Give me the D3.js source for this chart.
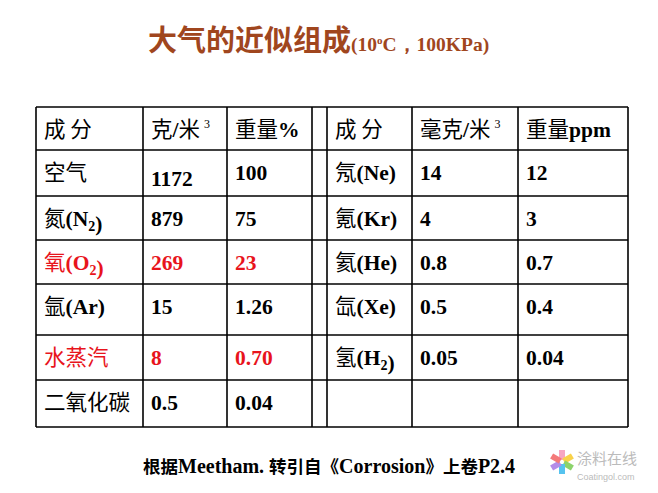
<!DOCTYPE html>
<html><head><meta charset="utf-8">
<script src="https://cdn.jsdelivr.net/npm/d3@7"></script>
<style>body{margin:0;background:#fff}</style>
</head><body>
<svg id="chart" width="658" height="493"></svg>
<script>
const headers = ['成 分', '克/米^3', '重量%', '', '成 分', '毫克/米^3', '重量ppm'];
const leftNames = ['空气', '氮(N_2)', '氧(O_2)', '氩(Ar)', '水蒸汽', '二氧化碳'];
const leftGrams = ['1172', '879', '269', '15', '8', '0.5'];
const leftPct = ['100', '75', '23', '1.26', '0.70', '0.04'];
const rightNames = ['氖(Ne)', '氪(Kr)', '氦(He)', '氙(Xe)', '氢(H_2)', ''];
const rightMg = ['14', '4', '0.8', '0.5', '0.05', ''];
const rightPpm = ['12', '3', '0.7', '0.4', '0.04', ''];
const redRows = ['氧(O_2)', '水蒸汽'];

const svg = d3.select('#chart');
const colEdges = [36, 143, 227, 312, 327, 412, 518, 628];
const rowEdges = [107, 150, 196, 240, 284, 335, 380, 427];

const x = d3.scaleOrdinal().domain(d3.range(7)).range(colEdges.slice(0, 7));
const y = d3.scaleOrdinal().domain(d3.range(7)).range(rowEdges.slice(0, 7));

// title
const title = svg.append('text').attr('x', 148).attr('y', 51).attr('fill', '#a0461e').attr('font-weight', 'bold');
title.append('tspan').attr('font-family', 'Noto Sans CJK SC').attr('font-size', 29).text('大气的近似组成');
const t2 = title.append('tspan').attr('font-family', 'Liberation Serif').attr('font-size', 19.5);
t2.append('tspan').text('(10');
t2.append('tspan').attr('font-size', 11).attr('dy', -7).text('o');
t2.append('tspan').attr('dy', 7).text('C，100KPa)');

// grid
const g = svg.append('g').attr('stroke', '#000').attr('stroke-width', 1.6);
colEdges.forEach(cx => g.append('line').attr('x1', cx).attr('x2', cx).attr('y1', rowEdges[0]).attr('y2', rowEdges[7]));
rowEdges.forEach(cy => g.append('line').attr('x1', colEdges[0]).attr('x2', colEdges[7]).attr('y1', cy).attr('y2', cy));

function isCJK(ch) { return /[\u3000-\u9fff\uff00-\uffef]/.test(ch); }

function writeCell(col, row, str, color, dy) {
  if (!str) return;
  const t = svg.append('text').attr('x', x(col) + 8).attr('y', y(row) + 30 + (dy || 0))
    .attr('fill', color).attr('font-size', 21.5);
  const parts = str.split(/(_\d|\^\d)/);
  parts.forEach(p => {
    if (!p) return;
    if (p[0] === '_') {
      t.append('tspan').attr('font-family', 'Liberation Serif').attr('font-weight', 'bold')
        .attr('font-size', 14).attr('dy', 5).text(p.slice(1));
      t.append('tspan').attr('dy', -5).text('');
      return;
    }
    if (p[0] === '^') {
      t.append('tspan').attr('font-family', 'Liberation Serif').attr('font-size', 12)
        .attr('dy', -9).attr('dx', 4).text(p.slice(1));
      t.append('tspan').attr('dy', 9).text('');
      return;
    }
    let run = '', cjk = null;
    const flush = () => {
      if (!run) return;
      t.append('tspan').attr('font-family', cjk ? 'Noto Sans CJK SC' : 'Liberation Serif')
        .attr('font-weight', cjk ? 'normal' : 'bold').text(run);
      run = '';
    };
    for (const ch of p) {
      const c = isCJK(ch) || ch === ' ';
      if (cjk !== null && c !== cjk && ch !== ' ') flush();
      if (ch !== ' ') cjk = c;
      run += ch;
    }
    flush();
  });
}

headers.forEach((h, i) => writeCell(i, 0, h, '#000'));
leftNames.forEach((d, i) => {
  const c = redRows.includes(d) ? '#e8141c' : '#000';
  writeCell(0, i + 1, d, c);
  writeCell(1, i + 1, leftGrams[i], c, i === 0 ? 6 : 0);
  writeCell(2, i + 1, leftPct[i], c);
  writeCell(4, i + 1, rightNames[i], '#000');
  writeCell(5, i + 1, rightMg[i], '#000');
  writeCell(6, i + 1, rightPpm[i], '#000');
});

// footer
const f = svg.append('text').attr('x', 143).attr('y', 473).attr('font-weight', 'bold');
[['根据', 1], ['Meetham.  ', 0], ['转引自《', 1], ['Corrosion', 0], ['》上卷', 1], ['P2.4', 0]].forEach(([s, c]) =>
  f.append('tspan').attr('font-family', c ? 'Noto Sans CJK SC' : 'Liberation Serif').attr('font-size', c ? 17.5 : 20).text(s));

// watermark
const petals = ['#f7a6c2', '#f9d24a', '#8dd36b', '#56c3ef', '#b48ce8', '#f47a7a'];
const wm = svg.append('g').attr('transform', 'translate(562,462)');
petals.forEach((c, i) => wm.append('rect').attr('x', -3).attr('y', -12).attr('width', 6).attr('height', 10)
  .attr('fill', c).attr('transform', `rotate(${i * 60})`));
svg.append('text').attr('x', 577).attr('y', 464).attr('font-family', 'Noto Sans CJK SC').attr('font-size', 15)
  .attr('fill', '#bbb').text('涂料在线');
svg.append('text').attr('x', 577).attr('y', 480).attr('font-family', 'Liberation Sans').attr('font-size', 9)
  .attr('fill', '#bbb').text('Coatingol.com');
</script>
</body></html>
